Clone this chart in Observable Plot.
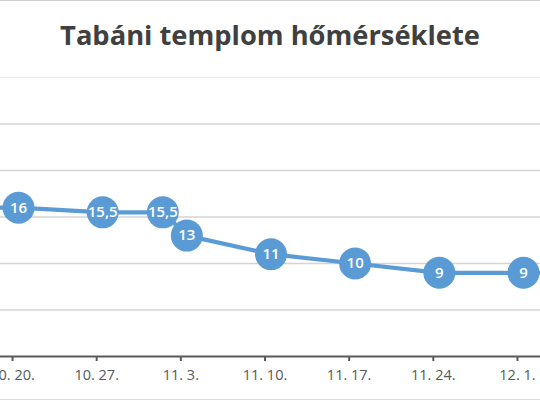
<!DOCTYPE html>
<html>
<head>
<meta charset="utf-8">
<script src="https://cdn.jsdelivr.net/npm/d3@7"></script>
<script src="https://cdn.jsdelivr.net/npm/@observablehq/plot@0.6"></script>
<style>
  html, body { margin: 0; padding: 0; background: #fff; overflow: hidden; }
  #wrap { width: 540px; height: 400px; box-sizing: border-box; border-top: 1px solid #d0d0d0; border-bottom: 1px solid #d9d9d9; position: relative; overflow: hidden; }
  #title { height: 59px; line-height: 68px; text-align: center; font-family: "Open Sans", sans-serif; font-weight: 700; font-size: 27.3px; color: #404040; white-space: nowrap; }
  #chart svg { display: block; overflow: hidden; }
</style>
</head>
<body>
<div id="wrap">
  <div id="title">Tabáni templom hőmérséklete</div>
  <div id="chart"></div>
</div>
<script>
// Measurement dates (month-day) and temperatures
const measureDates = ["10-13", "10-20", "10-27", "11-01", "11-03", "11-10", "11-17", "11-24", "12-01", "12-08"];
const temperatures = [16, 16, 15.5, 15.5, 13, 11, 10, 9, 9, 9];
const valueLabels = ["16", "16", "15,5", "15,5", "13", "11", "10", "9", "9", "9"];

// Axis ticks
const tickDates = ["10-20", "10-27", "11-03", "11-10", "11-17", "11-24", "12-01"];
const tickLabels = ["10. 20.", "10. 27.", "11. 3.", "11. 10.", "11. 17.", "11. 24.", "12. 1."];

const yTicks = [5, 10, 15, 20, 25];
const yTop = 30;

const year = 2014;
const toDate = (md, hour = 0) => new Date(Date.UTC(year, +md.slice(0, 2) - 1, +md.slice(3), hour));

// Points sit in the middle of their day slot (Excel date axis)
const data = measureDates.map((md, i) => ({date: toDate(md, 12), temp: temperatures[i], label: valueLabels[i]}));
const ticks = tickDates.map((md, i) => ({date: toDate(md), label: tickLabels[i]}));

const xDomain = [new Date(Date.UTC(year, 9, 19, 0)), new Date(Date.UTC(year, 11, 2, 22))];

const blue = "#5b9bd5";

const chart = Plot.plot({
  width: 540,
  height: 340,
  marginLeft: 0,
  marginRight: 0,
  marginTop: 17,
  marginBottom: 44,
  style: {fontFamily: "Open Sans, sans-serif", background: "#fff", overflow: "hidden"},
  x: {type: "utc", domain: xDomain, axis: null},
  y: {domain: [0, yTop], axis: null},
  marks: [
    Plot.ruleY(yTicks, {stroke: "#d4d4d4", strokeWidth: 1.4}),
    Plot.ruleY([yTop], {stroke: "#ebebeb", strokeWidth: 1.4}),
    Plot.axisX({ticks: ticks.map(t => t.date), tickFormat: () => "", tickSize: 5, stroke: "#595959", strokeWidth: 2, anchor: "bottom"}),
    Plot.text(ticks, {x: "date", text: "label", frameAnchor: "bottom", dy: 23, fontSize: 14.5, fill: "#595959"}),
    Plot.ruleY([0], {stroke: "#595959", strokeWidth: 2}),
    Plot.line(data, {x: "date", y: "temp", stroke: blue, strokeWidth: 4.2, clip: true}),
    Plot.dot(data, {x: "date", y: "temp", r: 16, fill: blue, stroke: null, clip: true}),
    Plot.text(data, {x: "date", y: "temp", text: "label", fill: "#fff", fontSize: 15, fontWeight: 600, letterSpacing: "-0.8px", clip: true})
  ]
});
document.getElementById("chart").appendChild(chart);
</script>
</body>
</html>
